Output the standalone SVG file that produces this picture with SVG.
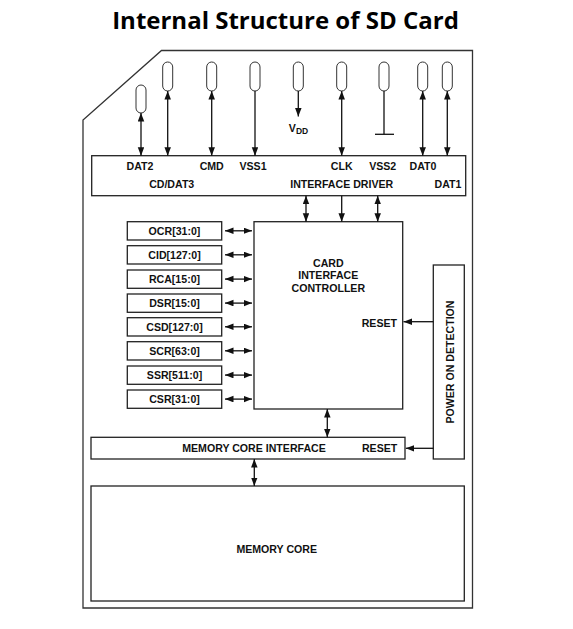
<svg xmlns="http://www.w3.org/2000/svg" width="573" height="629" viewBox="0 0 573 629">
<style>
.box{fill:#fff;stroke:#222;stroke-width:1.3}
.pin{fill:#fff;stroke:#333;stroke-width:1}
.ln{stroke:#111;stroke-width:1.3;fill:none}
.t{font-family:"Liberation Sans",Arial,sans-serif;font-weight:bold;font-size:10.6px;fill:#111}
.title{font-family:"Open Sans","Liberation Sans",sans-serif;font-weight:bold;font-size:24px;fill:#000}
</style>
<defs>
<marker id="ah" markerUnits="userSpaceOnUse" markerWidth="10" markerHeight="8" refX="8.5" refY="3.25" orient="auto-start-reverse">
<path d="M0,0 L8.5,3.25 L0,6.5 z" fill="#111"/>
</marker>
</defs>
<rect width="573" height="629" fill="#fff"/>
<text class="title" x="285.5" y="28.5" text-anchor="middle">Internal Structure of SD Card</text>

<g id="card-outline">
<path d="M161.5,50.5 L472.5,50.5 L472.5,608 L83,608 L83,120 Z" fill="none" stroke="#333" stroke-width="1.3"/>
</g>

<g id="pins">
<rect class="pin" x="136" y="85" width="10" height="28" rx="5"/>
<rect class="pin" x="162.7" y="62" width="10" height="29" rx="5"/>
<rect class="pin" x="206.7" y="62" width="10" height="29" rx="5"/>
<rect class="pin" x="250" y="62" width="10" height="29" rx="5"/>
<rect class="pin" x="293.3" y="62" width="10" height="29" rx="5"/>
<rect class="pin" x="336.7" y="62" width="10" height="29" rx="5"/>
<rect class="pin" x="379" y="62" width="10" height="29" rx="5"/>
<rect class="pin" x="417.7" y="62" width="10" height="29" rx="5"/>
<rect class="pin" x="442.3" y="62" width="10" height="29" rx="5"/>
<text class="t" x="298.5" y="131.5" text-anchor="middle">V<tspan font-size="8.5" dy="2">DD</tspan></text>
</g>

<g id="interface-driver">
<rect class="box" x="91.7" y="155.7" width="374" height="40"/>
<text class="t" x="140" y="169.5" text-anchor="middle">DAT2</text>
<text class="t" x="211.7" y="169.5" text-anchor="middle">CMD</text>
<text class="t" x="253" y="169.5" text-anchor="middle">VSS1</text>
<text class="t" x="341.7" y="169.5" text-anchor="middle">CLK</text>
<text class="t" x="382.7" y="169.5" text-anchor="middle">VSS2</text>
<text class="t" x="423" y="169.5" text-anchor="middle">DAT0</text>
<text class="t" x="171.7" y="187.5" text-anchor="middle">CD/DAT3</text>
<text class="t" x="341.7" y="187.5" text-anchor="middle">INTERFACE DRIVER</text>
<text class="t" x="461.5" y="187.5" text-anchor="end">DAT1</text>
</g>

<g id="card-interface-controller">
<rect class="box" x="254" y="221.7" width="148.7" height="187.3"/>
<text class="t" x="328.3" y="266.5" text-anchor="middle">CARD</text>
<text class="t" x="328.3" y="279" text-anchor="middle">INTERFACE</text>
<text class="t" x="328.3" y="291.5" text-anchor="middle">CONTROLLER</text>
<text class="t" x="397" y="326.5" text-anchor="end">RESET</text>
</g>

<g id="registers">
<rect class="box" x="127.3" y="221.7" width="94.4" height="18.3"/>
<text class="t" x="174.5" y="234.8" text-anchor="middle">OCR[31:0]</text>
<rect class="box" x="127.3" y="245.7" width="94.4" height="18.3"/>
<text class="t" x="174.5" y="258.8" text-anchor="middle">CID[127:0]</text>
<rect class="box" x="127.3" y="270" width="94.4" height="18.3"/>
<text class="t" x="174.5" y="283.1" text-anchor="middle">RCA[15:0]</text>
<rect class="box" x="127.3" y="294" width="94.4" height="18.3"/>
<text class="t" x="174.5" y="307.1" text-anchor="middle">DSR[15:0]</text>
<rect class="box" x="127.3" y="317.7" width="94.4" height="18.3"/>
<text class="t" x="174.5" y="330.8" text-anchor="middle">CSD[127:0]</text>
<rect class="box" x="127.3" y="341.7" width="94.4" height="18.3"/>
<text class="t" x="174.5" y="354.8" text-anchor="middle">SCR[63:0]</text>
<rect class="box" x="127.3" y="366" width="94.4" height="18.3"/>
<text class="t" x="174.5" y="379.1" text-anchor="middle">SSR[511:0]</text>
<rect class="box" x="127.3" y="390" width="94.4" height="18.3"/>
<text class="t" x="174.5" y="403.1" text-anchor="middle">CSR[31:0]</text>
</g>

<g id="power-on-detection">
<rect class="box" x="433.3" y="265" width="31" height="194"/>
<text class="t" transform="translate(453.8,362) rotate(-90)" text-anchor="middle">POWER ON DETECTION</text>
</g>

<g id="memory-core-interface">
<rect class="box" x="91" y="437.3" width="314" height="21.7"/>
<text class="t" x="254" y="451.5" text-anchor="middle">MEMORY CORE INTERFACE</text>
<text class="t" x="397.3" y="451.5" text-anchor="end">RESET</text>
</g>

<g id="memory-core">
<rect class="box" x="91" y="486" width="373.3" height="115"/>
<text class="t" x="276.7" y="552.5" text-anchor="middle">MEMORY CORE</text>
</g>

<g id="connectors">
<line class="ln" x1="141" y1="113" x2="141" y2="155.7" marker-start="url(#ah)" marker-end="url(#ah)"/>
<line class="ln" x1="167.7" y1="91" x2="167.7" y2="155.7" marker-start="url(#ah)" marker-end="url(#ah)"/>
<line class="ln" x1="211.7" y1="91" x2="211.7" y2="155.7" marker-start="url(#ah)" marker-end="url(#ah)"/>
<line class="ln" x1="255" y1="91" x2="255" y2="155.7" marker-end="url(#ah)"/>
<line class="ln" x1="298.3" y1="91" x2="298.3" y2="116.5" marker-end="url(#ah)"/>
<line class="ln" x1="341.7" y1="91" x2="341.7" y2="155.7" marker-start="url(#ah)" marker-end="url(#ah)"/>
<line class="ln" x1="384" y1="91" x2="384" y2="134.3"/>
<line class="ln" x1="375" y1="134.3" x2="394" y2="134.3"/>
<line class="ln" x1="422.7" y1="91" x2="422.7" y2="155.7" marker-start="url(#ah)" marker-end="url(#ah)"/>
<line class="ln" x1="447.3" y1="91" x2="447.3" y2="155.7" marker-start="url(#ah)" marker-end="url(#ah)"/>

<line class="ln" x1="306" y1="195.7" x2="306" y2="221.7" marker-start="url(#ah)" marker-end="url(#ah)"/>
<line class="ln" x1="341.7" y1="195.7" x2="341.7" y2="221.7" marker-end="url(#ah)"/>
<line class="ln" x1="377.7" y1="195.7" x2="377.7" y2="221.7" marker-start="url(#ah)" marker-end="url(#ah)"/>

<line class="ln" x1="225" y1="230.8" x2="252" y2="230.8" marker-start="url(#ah)" marker-end="url(#ah)"/>
<line class="ln" x1="225" y1="254.8" x2="252" y2="254.8" marker-start="url(#ah)" marker-end="url(#ah)"/>
<line class="ln" x1="225" y1="279.1" x2="252" y2="279.1" marker-start="url(#ah)" marker-end="url(#ah)"/>
<line class="ln" x1="225" y1="303.1" x2="252" y2="303.1" marker-start="url(#ah)" marker-end="url(#ah)"/>
<line class="ln" x1="225" y1="326.8" x2="252" y2="326.8" marker-start="url(#ah)" marker-end="url(#ah)"/>
<line class="ln" x1="225" y1="350.8" x2="252" y2="350.8" marker-start="url(#ah)" marker-end="url(#ah)"/>
<line class="ln" x1="225" y1="375.1" x2="252" y2="375.1" marker-start="url(#ah)" marker-end="url(#ah)"/>
<line class="ln" x1="225" y1="399.1" x2="252" y2="399.1" marker-start="url(#ah)" marker-end="url(#ah)"/>

<line class="ln" x1="433.3" y1="321.7" x2="403.5" y2="321.7" marker-end="url(#ah)"/>
<line class="ln" x1="433.3" y1="448.3" x2="405.8" y2="448.3" marker-end="url(#ah)"/>
<line class="ln" x1="327.3" y1="409" x2="327.3" y2="437.3" marker-start="url(#ah)" marker-end="url(#ah)"/>
<line class="ln" x1="254.3" y1="459" x2="254.3" y2="486" marker-start="url(#ah)" marker-end="url(#ah)"/>
</g>
</svg>
